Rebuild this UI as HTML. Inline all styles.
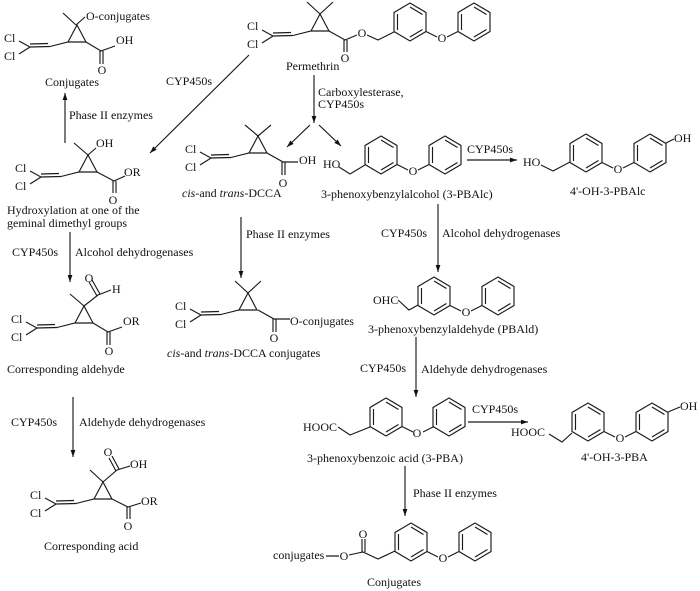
<!DOCTYPE html>
<html><head><meta charset="utf-8"><style>
html,body{margin:0;padding:0;background:#fff;width:700px;height:591px;overflow:hidden}
svg{display:block;filter:blur(.3px)}
text{font-family:"Liberation Serif",serif;font-size:12px;fill:#111}
.m{text-anchor:middle}
.b{stroke:#1a1a1a;stroke-width:1.15;fill:none}
.a{stroke:#1a1a1a;stroke-width:1.15;fill:none;marker-end:url(#h)}
</style></head><body>
<svg width="700" height="591" viewBox="0 0 700 591" xmlns="http://www.w3.org/2000/svg">
<defs>
<marker id="h" markerUnits="userSpaceOnUse" markerWidth="8" markerHeight="6" refX="7" refY="3" orient="auto"><path d="M0 .6L7 3L0 5.4z" fill="#111"/></marker>
<path id="v" class="b" d="M-49-1L-38 5L-49 12M-38 5L-18 4.500M-38 2L-20 1.500M-18 4.500L0 0L18 0L9-17L0 0"/>
<path id="r" class="b" d="M0-19L16-9.500V9.500L0 19L-16 9.500V-9.500ZM0-15L12.500-7.500M12.500 7.500L0 15M-12.500 8V-8"/>
<path id="e" class="b" d="M16 9.500L27 15M37 15L48 9.500"/>
</defs>

<!-- Arrows -->
<path class="a" d="M65 143V93"/>
<path class="a" d="M249 55L150 153"/>
<path class="a" d="M314 75V123"/>
<path class="a" d="M310 125L287 147"/>
<path class="a" d="M319 125L341 146"/>
<path class="a" d="M241 217V278"/>
<path class="a" d="M70 232V282"/>
<path class="a" d="M438 204V272"/>
<path class="a" d="M467 160H517"/>
<path class="a" d="M416 337V397"/>
<path class="a" d="M468 422H528"/>
<path class="a" d="M405 466V516"/>
<path class="a" d="M73 397V457"/>

<!-- Top-left conjugate -->
<use href="#v" x="68" y="42"/>
<text x="4" y="42">Cl</text><text x="4" y="60">Cl</text>
<path class="b" d="M76 25L63 13M76 25L85 17M86 42L101 51L115 46M100 51V64M103 51V64"/>
<text x="86" y="20">O-conjugates</text><text x="116" y="44">OH</text><text class="m" x="102" y="74">O</text>
<text x="45" y="86">Conjugates</text>
<text x="69" y="119">Phase II enzymes</text>

<!-- Permethrin -->
<use href="#v" x="311" y="31"/>
<text x="247" y="30">Cl</text><text x="247" y="48">Cl</text>
<path class="b" d="M320 14L307 2M320 14L333 2M329 31L345 40L357 35M344 40V52M347 40V52M367 35L378 40L394 32"/>
<text class="m" x="345" y="62">O</text><text class="m" x="362" y="37">O</text>
<use href="#r" x="410" y="22"/><use href="#e" x="410" y="22"/><use href="#r" x="474" y="22"/>
<text class="m" x="442" y="42">O</text>
<text x="286" y="70">Permethrin</text>
<text x="166" y="85">CYP450s</text>
<text x="318" y="96">Carboxylesterase,</text><text x="318" y="108">CYP450s</text>

<!-- Hydroxylation -->
<use href="#v" x="79" y="172"/>
<text x="15" y="172">Cl</text><text x="15" y="190">Cl</text>
<path class="b" d="M88 155L74 143M88 155L96 148M97 172L114 181L125 176M113 181V193M116 181V193"/>
<text x="96" y="147">OH</text><text x="124" y="176">OR</text><text class="m" x="113" y="204">O</text>
<text x="7" y="214">Hydroxylation at one of the</text>
<text x="7" y="227">geminal dimethyl groups</text>
<text x="12" y="256">CYP450s</text><text x="75" y="256">Alcohol dehydrogenases</text>

<!-- DCCA -->
<use href="#v" x="249" y="153"/>
<text x="185" y="153">Cl</text><text x="185" y="171">Cl</text>
<path class="b" d="M258 136L245 125M258 136L271 125M267 153L283 162L298 162M282 162V175M285 162V175"/>
<text x="299" y="164">OH</text><text class="m" x="283" y="187">O</text>
<text x="182" y="197"><tspan font-style="italic">cis</tspan>-and <tspan font-style="italic">trans</tspan>-DCCA</text>
<text x="246" y="238">Phase II enzymes</text>

<!-- 3-PBAlc -->
<text x="323" y="168">HO</text>
<path class="b" d="M339 167L350 174L365 165"/>
<use href="#r" x="381" y="155"/><use href="#e" x="381" y="155"/><use href="#r" x="445" y="155"/>
<text class="m" x="413" y="175">O</text>
<text x="321" y="198">3-phenoxybenzylalcohol (3-PBAlc)</text>
<text x="467" y="153">CYP450s</text>
<text x="381" y="237">CYP450s</text><text x="442" y="237">Alcohol dehydrogenases</text>

<!-- 4'-OH-3-PBAlc -->
<text x="523" y="166">HO</text>
<path class="b" d="M541 165L553 171L570 162M666 143L674 139"/>
<use href="#r" x="586" y="153"/><use href="#e" x="586" y="153"/><use href="#r" x="650" y="153"/>
<text class="m" x="618" y="173">O</text><text x="674" y="142">OH</text>
<text x="570" y="195">4'-OH-3-PBAlc</text>

<!-- PBAld -->
<text x="373" y="304">OHC</text>
<path class="b" d="M398 300L409 310L418 305"/>
<use href="#r" x="434" y="296"/><use href="#e" x="434" y="296"/><use href="#r" x="498" y="296"/>
<text class="m" x="466" y="316">O</text>
<text x="368" y="333">3-phenoxybenzylaldehyde (PBAld)</text>
<text x="360" y="372">CYP450s</text><text x="421" y="373">Aldehyde dehydrogenases</text>

<!-- 3-PBA -->
<text x="303" y="431">HOOC</text>
<path class="b" d="M338 427L350 435L370 427"/>
<use href="#r" x="386" y="417"/><use href="#e" x="386" y="417"/><use href="#r" x="449" y="417"/>
<text class="m" x="417" y="437">O</text>
<text x="472" y="413">CYP450s</text>
<text x="307" y="462">3-phenoxybenzoic acid (3-PBA)</text>
<text x="413" y="497">Phase II enzymes</text>

<!-- 4'-OH-3-PBA -->
<text x="511" y="436">HOOC</text>
<path class="b" d="M549 434L562 442L572 433M668 412L680 407"/>
<use href="#r" x="588" y="422"/><use href="#e" x="588" y="422"/><use href="#r" x="652" y="422"/>
<text class="m" x="620" y="442">O</text><text x="680" y="410">OH</text>
<text x="581" y="461">4'-OH-3-PBA</text>

<!-- Bottom conjugates -->
<text x="273" y="559">conjugates</text>
<path class="b" d="M326 556H339M349 555L363 552L378 559L395 551M362 552V539M365 552V539"/>
<text class="m" x="344" y="560">O</text><text class="m" x="363" y="538">O</text>
<use href="#r" x="411" y="542"/><use href="#e" x="411" y="542"/><use href="#r" x="475" y="542"/>
<text class="m" x="443" y="562">O</text>
<text x="367" y="586">Conjugates</text>

<!-- DCCA conjugates -->
<use href="#v" x="239" y="310"/>
<text x="175" y="310">Cl</text><text x="175" y="328">Cl</text>
<path class="b" d="M248 293L235 281M248 293L261 281M258 310L274 319H290M273 319V332M276 319V332"/>
<text x="290" y="325">O-conjugates</text><text class="m" x="274" y="342">O</text>
<text x="167" y="357"><tspan font-style="italic">cis</tspan>-and <tspan font-style="italic">trans</tspan>-DCCA conjugates</text>

<!-- Aldehyde -->
<use href="#v" x="75" y="323"/>
<text x="11" y="323">Cl</text><text x="11" y="341">Cl</text>
<path class="b" d="M84 306L70 294M84 306L98 295L111 290M97 296L89 282M100 294L92 280M93 323L108 332L122 327M107 332V345M110 332V345"/>
<text class="m" x="89" y="282">O</text><text x="112" y="293">H</text><text x="123" y="325">OR</text><text class="m" x="109" y="355">O</text>
<text x="7" y="373">Corresponding aldehyde</text>
<text x="11" y="426">CYP450s</text><text x="79" y="426">Aldehyde dehydrogenases</text>

<!-- Acid -->
<use href="#v" x="94" y="499"/>
<text x="30" y="499">Cl</text><text x="30" y="517">Cl</text>
<path class="b" d="M103 482L90 470M103 482L117 470L130 466M116 471L109 458M119 469L112 456M112 499L128 507L141 503M127 507V519M130 507V519"/>
<text class="m" x="108" y="456">O</text><text x="130" y="468">OH</text><text x="141" y="505">OR</text><text class="m" x="128" y="530">O</text>
<text x="44" y="550">Corresponding acid</text>
</svg>
</body></html>
